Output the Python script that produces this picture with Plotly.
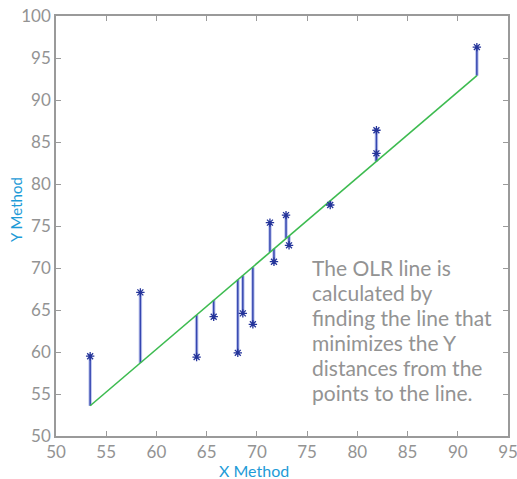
import plotly.graph_objects as go

# Data
x_method = [53.4, 58.4, 64.0, 65.7, 68.1, 68.6, 69.6, 71.3, 71.7, 72.9, 73.2, 77.3, 81.9, 81.9, 91.9]
y_method = [59.5, 67.1, 59.4, 64.2, 59.9, 64.6, 63.3, 75.4, 70.75, 76.3, 72.7, 77.5, 86.4, 83.65, 96.3]
# OLR line values at each X
olr_fit = [53.6, 58.7, 64.4, 66.2, 68.6, 69.1, 70.1, 71.9, 72.3, 73.5, 73.8, 78.0, 82.7, 82.7, 92.9]

x_ticks = [50, 55, 60, 65, 70, 75, 80, 85, 90, 95]
y_ticks = [50, 55, 60, 65, 70, 75, 80, 85, 90, 95, 100]

note = ["The OLR line is", "calculated by", "finding the line that",
        "minimizes the Y", "distances from the", "points to the line."]

FONT = "Lato"
GRAY = "#939393"
BLUE_T = "#1e9bd7"

# plot area in window pixels
PL, PR, PT, PB = 56, 508, 16, 436
PW, PH = PR - PL, PB - PT
FIG_W, FIG_H = 517, 479


def px(xp):
    return (xp - PL) / PW


def py(yp):
    return (PB - yp) / PH


fig = go.Figure()

# residual segments
seg_x, seg_y = [], []
for xv, yv, fv in zip(x_method, y_method, olr_fit):
    seg_x += [xv, xv, None]
    seg_y += [yv, fv, None]
fig.add_trace(go.Scatter(x=seg_x, y=seg_y, mode="lines",
                         line=dict(color="rgba(90,110,210,0.4)", width=3.5),
                         hoverinfo="skip", showlegend=False))
fig.add_trace(go.Scatter(x=seg_x, y=seg_y, mode="lines",
                         line=dict(color="#3546b0", width=1.5),
                         hoverinfo="skip", showlegend=False))

# OLR line
order = sorted(range(len(x_method)), key=lambda i: x_method[i])
fig.add_trace(go.Scatter(x=[x_method[i] for i in order], y=[olr_fit[i] for i in order],
                         mode="lines", line=dict(color="#3dbb50", width=1.6),
                         showlegend=False))

# points
fig.add_trace(go.Scatter(x=x_method, y=y_method, mode="markers",
                         marker=dict(symbol="asterisk-open", size=7, color="#24349a",
                                     line=dict(color="#24349a", width=1.3)),
                         showlegend=False))

axis_common = dict(showgrid=False, zeroline=False, showline=True,
                   linecolor="#9a9a9a", linewidth=1.5, mirror="ticks",
                   ticks="inside", ticklen=5, tickwidth=1.2, tickcolor="#9a9a9a",
                   automargin=False, ticklabeloverflow="allow",
                   tickfont=dict(family=FONT, size=17, color=GRAY))

fig.update_xaxes(range=[50, 95], tickvals=x_ticks, **axis_common)
fig.update_yaxes(range=[50, 100], tickvals=y_ticks, **axis_common)

fig.add_annotation(text="X Method", xref="paper", yref="paper",
                   x=px(254), y=py(470),
                   xanchor="center", yanchor="middle", showarrow=False,
                   font=dict(family=FONT, size=16, color=BLUE_T))
fig.add_annotation(text="Y Method", xref="paper", yref="paper",
                   x=px(16), y=py(210),
                   xanchor="center", yanchor="middle", textangle=-90, showarrow=False,
                   font=dict(family=FONT, size=15, color=BLUE_T))

for i, line in enumerate(note):
    fig.add_annotation(text=line, xref="paper", yref="paper",
                       x=px(310), y=py(267 + 25 * i),
                       xanchor="left", yanchor="middle", align="left", showarrow=False,
                       font=dict(family=FONT, size=21, color=GRAY))

fig.update_layout(width=FIG_W, height=FIG_H,
                  margin=dict(l=PL, r=FIG_W - PR, t=PT, b=FIG_H - PB),
                  paper_bgcolor="white", plot_bgcolor="white")

fig.write_html("out.html",
               config={"displayModeBar": False},
               post_script="document.body.style.margin='0px';"
                           "document.body.style.overflow='hidden';")
